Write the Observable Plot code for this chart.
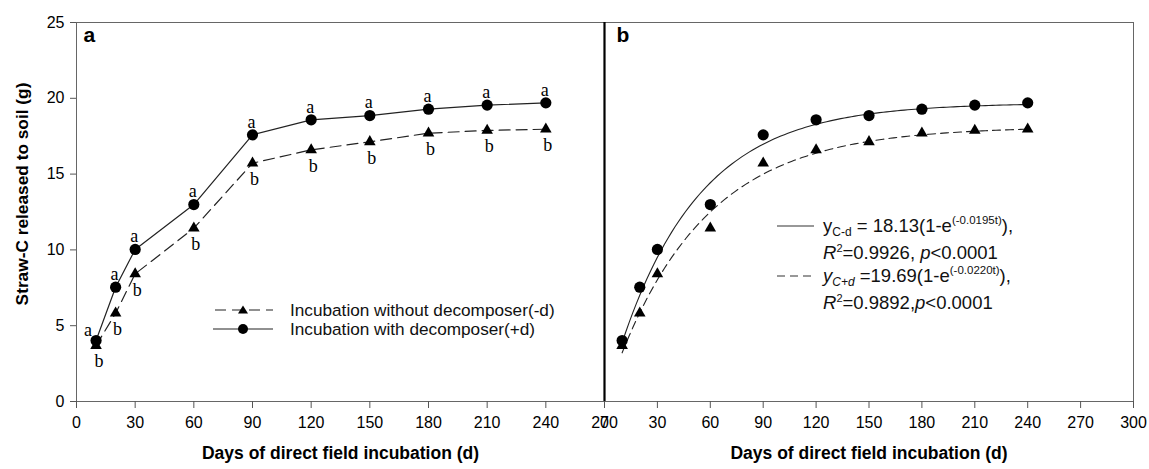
<!DOCTYPE html>
<html>
<head>
<meta charset="utf-8">
<script src="https://cdn.jsdelivr.net/npm/d3@7"></script>
<script src="https://cdn.jsdelivr.net/npm/@observablehq/plot@0.6"></script>
<style>
  html, body { margin: 0; padding: 0; background: white; }
  #wrap { position: relative; width: 1149px; height: 469px; overflow: hidden; font-family: "Liberation Sans", Arial, sans-serif; color: #111; }
  .panel { position: absolute; top: 0; }
  .leg { position: absolute; height: 20px; line-height: 20px; font-size: 18.5px; white-space: nowrap; }
  .leg.a { font-size: 17.2px; }
  .leg svg { position: absolute; top: 0; }
  .sub { font-size: 12px; position: relative; top: 4px; }
  .sup { font-size: 11.5px; position: relative; top: -8px; }
  .sup2 { font-size: 11px; position: relative; top: -7px; }
</style>
</head>
<body>
<div id="wrap"></div>
<script>
// ---- data ----
const days = [10, 20, 30, 60, 90, 120, 150, 180, 210, 240];
const withDecomposer = [4.02, 7.54, 10.03, 12.99, 17.59, 18.58, 18.86, 19.28, 19.55, 19.70];
const withoutDecomposer = [3.69, 5.82, 8.42, 11.43, 15.72, 16.60, 17.13, 17.70, 17.88, 17.96];
const lettersWith = ["a", "a", "a", "a", "a", "a", "a", "a", "a", "a"];
const lettersWithout = ["b", "b", "b", "b", "b", "b", "b", "b", "b", "b"];
const yTicks = [0, 5, 10, 15, 20, 25];
const xTicksA = [0, 30, 60, 90, 120, 150, 180, 210, 240, 270];
const xTicksB = [0, 30, 60, 90, 120, 150, 180, 210, 240, 270, 300];
// fitted curves y = A(1 - e^(-k t)) as drawn (solid upper, dashed lower)
const fitAsymptote = [19.69, 18.13];
const fitRate = [0.0220, 0.0195];
const fitStart = 10, fitEnd = 240;

const plus = days.map((d, i) => ({day: d, val: withDecomposer[i], lab: lettersWith[i]}));
const minus = days.map((d, i) => ({day: d, val: withoutDecomposer[i], lab: lettersWithout[i]}));
const curves = fitAsymptote.map((A, j) =>
  d3.range(fitStart, fitEnd + 0.01, 2).map(t => ({t, v: A * (1 - Math.exp(-fitRate[j] * t)), j})));

const font = "'Liberation Sans', Arial, sans-serif";
const serif = "'Liberation Serif', 'Times New Roman', serif";
const baseStyle = {background: "transparent", fontFamily: font, fontSize: "16px", color: "black", overflow: "visible"};

const first = d => d.day === 10;
const rest = d => d.day !== 10;

const left = Plot.plot({
  width: 620, height: 469,
  marginLeft: 76, marginRight: 16, marginTop: 22, marginBottom: 68,
  style: baseStyle,
  x: {domain: [0, 270]},
  y: {domain: [0, 25]},
  marks: [
    Plot.frame({stroke: "#666"}),
    Plot.axisY({ticks: yTicks, tickSize: 6, tickPadding: 6, stroke: "#555", label: null, fontSize: 16}),
    Plot.axisX({ticks: xTicksA, tickSize: 7, tickPadding: 8, stroke: "#555", label: null, fontSize: 16}),
    Plot.line(minus, {x: "day", y: "val", stroke: "#222", strokeWidth: 1.2, strokeDasharray: "11,6"}),
    Plot.line(plus, {x: "day", y: "val", stroke: "#222", strokeWidth: 1.2}),
    Plot.dot(minus, {x: "day", y: "val", symbol: "triangle", r: 4.3, fill: "black", stroke: "none"}),
    Plot.dot(plus, {x: "day", y: "val", symbol: "circle", r: 5.6, fill: "black", stroke: "none"}),
    Plot.text(plus.filter(rest), {x: "day", y: "val", text: "lab", dx: -1, dy: -13, fill: "black", fontFamily: serif, fontSize: 18}),
    Plot.text(minus.filter(rest), {x: "day", y: "val", text: "lab", dx: 2, dy: 16, fill: "black", fontFamily: serif, fontSize: 18}),
    Plot.text(plus.filter(first), {x: "day", y: "val", text: "lab", dx: -8, dy: -10, fill: "black", fontFamily: serif, fontSize: 18}),
    Plot.text(minus.filter(first), {x: "day", y: "val", text: "lab", dx: 3, dy: 16, fill: "black", fontFamily: serif, fontSize: 18}),
    Plot.text(["a"], {frameAnchor: "top-left", dx: 7, dy: 5, textAnchor: "start", lineAnchor: "top", fontWeight: "bold", fontSize: 21}),
    Plot.text(["Days of direct field incubation (d)"], {frameAnchor: "bottom", dy: 57, fontWeight: "bold", fontSize: 17.5}),
    Plot.text(["Straw-C released to soil (g)"], {frameAnchor: "left", textAnchor: "middle", dx: -54, dy: -18, rotate: -90, fontWeight: "bold", fontSize: 17.3})
  ]
});

const right = Plot.plot({
  width: 559, height: 469,
  marginLeft: 14, marginRight: 16, marginTop: 22, marginBottom: 68,
  style: baseStyle,
  x: {domain: [0, 300]},
  y: {domain: [0, 25], axis: null},
  marks: [
    Plot.frame({stroke: "#666"}),
    Plot.ruleX([0], {stroke: "black", strokeWidth: 2.2}),
    Plot.axisX({ticks: xTicksB, tickSize: 7, tickPadding: 8, stroke: "#555", label: null, fontSize: 16}),
    Plot.line(curves[0], {x: "t", y: "v", stroke: "#222", strokeWidth: 1.1}),
    Plot.line(curves[1], {x: "t", y: "v", stroke: "#222", strokeWidth: 1.1, strokeDasharray: "8,5"}),
    Plot.dot(minus, {x: "day", y: "val", symbol: "triangle", r: 4.3, fill: "black", stroke: "none"}),
    Plot.dot(plus, {x: "day", y: "val", symbol: "circle", r: 5.6, fill: "black", stroke: "none"}),
    Plot.text(["b"], {frameAnchor: "top-left", dx: 12, dy: 5, textAnchor: "start", lineAnchor: "top", fontWeight: "bold", fontSize: 21}),
    Plot.text(["Days of direct field incubation (d)"], {frameAnchor: "bottom", dy: 57, fontWeight: "bold", fontSize: 17.5})
  ]
});

const wrap = document.getElementById("wrap");
left.classList.add("panel"); left.style.left = "0px";
right.classList.add("panel"); right.style.left = "590px";
wrap.appendChild(left);
wrap.appendChild(right);

// ---- legends ----
function legRow(x, y, html, sample, cls) {
  const d = document.createElement("div");
  d.className = "leg" + (cls ? " " + cls : "");
  d.style.left = x + "px";
  d.style.top = y + "px";
  d.innerHTML = sample + `<span>${html}</span>`;
  wrap.appendChild(d);
}
function sampleA(dashed, tri) {
  const mk = tri
    ? `<path d="M30,5.5 L35,13.5 L25,13.5 Z" fill="black"/>`
    : `<circle cx="30" cy="10" r="5" fill="black"/>`;
  return `<svg width="62" height="20" style="left:-77px">
    <line x1="0" y1="10" x2="60" y2="10" stroke="#222" stroke-width="1.2" ${dashed ? 'stroke-dasharray="11,6" stroke-dashoffset="-2"' : ''}/>${mk}</svg>`;
}
legRow(290, 300, "Incubation without decomposer(-d)", sampleA(true, true), "a");
legRow(290, 319, "Incubation with decomposer(+d)", sampleA(false, false), "a");

function sampleB(dashed) {
  return `<svg width="40" height="20" style="left:-46px">
    <line x1="0" y1="10" x2="37" y2="10" stroke="#333" stroke-width="1.1" ${dashed ? 'stroke-dasharray="8,5"' : ''}/></svg>`;
}
legRow(823, 216, `y<span class="sub">C-d</span> = 18.13(1-e<span class="sup">(-0.0195t)</span>),`, sampleB(false));
legRow(823, 243, `<i>R</i><span class="sup2">2</span>=0.9926, <i>p</i>&lt;0.0001`, "");
legRow(823, 266, `<i>y</i><span class="sub"><i>C+d</i></span> =19.69(1-e<span class="sup">(-0.0220t)</span>),`, sampleB(true));
legRow(823, 293, `<i>R</i><span class="sup2">2</span>=0.9892,<i>p</i>&lt;0.0001`, "");
</script>
</body>
</html>
